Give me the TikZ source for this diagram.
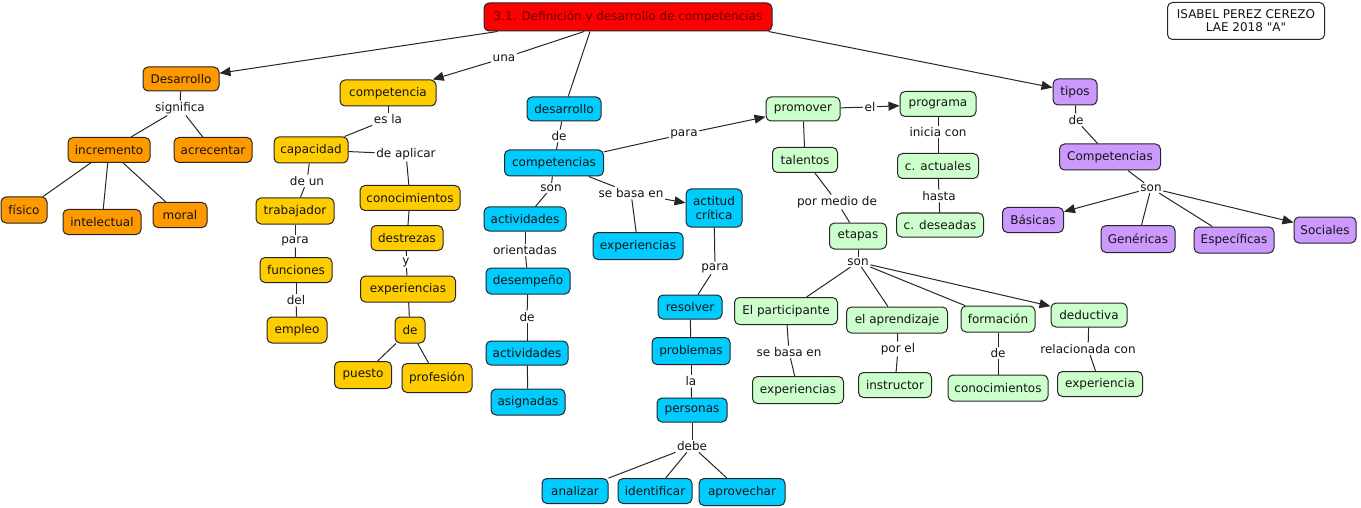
\documentclass[tikz,border=0pt]{standalone}
\usepackage{fontspec}
\setmainfont{DejaVu Sans}
\usetikzlibrary{arrows.meta}
\definecolor{orng}{RGB}{255,153,0}
\definecolor{ylw}{RGB}{255,204,0}
\definecolor{blu}{RGB}{0,204,255}
\definecolor{grn}{RGB}{204,255,204}
\definecolor{prp}{RGB}{204,153,255}
\definecolor{ttl}{RGB}{255,0,0}
\definecolor{ttltxt}{RGB}{100,0,0}
\begin{document}
\begin{tikzpicture}[x=1pt,y=-1pt,
  bx/.style={draw=black!85, rounded corners=5pt, line width=1pt, inner sep=2pt,
    font=\fontsize{12}{14}\selectfont, text=black!92, align=center},
  wh/.style 2 args={minimum width=#1pt, minimum height=#2pt},
  ob/.style={bx, fill=orng}, yb/.style={bx, fill=ylw}, bb/.style={bx, fill=blu},
  gb/.style={bx, fill=grn}, pb/.style={bx, fill=prp},
  lbl/.style={font=\fontsize{12}{14}\selectfont, text=black!92, inner sep=1.5pt, fill=white},
  ln/.style={draw=black!85, line width=1pt},
  arr/.style={ln, -{Triangle[length=11pt,width=9pt]}}]
\useasboundingbox (0,0) rectangle (1361,508);
% title and author
\node[bx, fill=ttl, text=ttltxt, wh={288}{28}] (title) at (628,17) {3.1. Definición y desarrollo de competencias};
\node[bx, fill=white, wh={157}{37}, inner sep=1pt, font=\fontsize{12}{13}\selectfont] (auth) at (1246,21) {ISABEL PEREZ CEREZO\\LAE 2018 \textquotedbl A\textquotedbl};
% orange
\node[ob, wh={76}{24}] (desa) at (181,79) {Desarrollo};
\node[ob, wh={82}{25}] (incr) at (109,150) {incremento};
\node[ob, wh={78}{25}] (acre) at (213,150) {acrecentar};
\node[ob, wh={46}{26}] (fisi) at (24,210) {físico};
\node[ob, wh={78}{25}] (inte) at (102,222) {intelectual};
\node[ob, wh={54}{25}] (mora) at (180,215) {moral};
% yellow
\node[yb, wh={96}{26}] (comp) at (388,93) {competencia};
\node[yb, wh={74}{26}] (capa) at (311,150) {capacidad};
\node[yb, wh={78}{26}] (trab) at (295,211) {trabajador};
\node[yb, wh={100}{25}] (cono) at (410,198) {conocimientos};
\node[yb, wh={72}{25}] (dest) at (407,238) {destrezas};
\node[yb, wh={72}{25}] (func) at (296,270) {funciones};
\node[yb, wh={95}{26}] (expy) at (408,289) {experiencias};
\node[yb, wh={60}{26}] (empl) at (297,330) {empleo};
\node[yb, wh={30}{26}] (dey) at (410,330) {de};
\node[yb, wh={57}{27}] (pues) at (363,375) {puesto};
\node[yb, wh={70}{29}] (prof) at (437,378) {profesión};
% blue
\node[bb, wh={74}{24}] (desb) at (564,109) {desarrollo};
\node[bb, wh={99}{26}] (cmpb) at (554,163) {competencias};
\node[bb, wh={82}{24}] (act1) at (525,219) {actividades};
\node[bb, wh={56}{38}, inner sep=1pt, font=\fontsize{12}{13.5}\selectfont] (acti) at (714,208) {actitud\\crítica};
\node[bb, wh={90}{27}] (expb) at (638,246) {experiencias};
\node[bb, wh={84}{26}] (dese) at (528,281) {desempeño};
\node[bb, wh={64}{24}] (reso) at (690,307) {resolver};
\node[bb, wh={78}{27}] (prob) at (691,351) {problemas};
\node[bb, wh={82}{24}] (act2) at (527,353) {actividades};
\node[bb, wh={74}{26}] (asig) at (528,402) {asignadas};
\node[bb, wh={70}{24}] (pers) at (692,410) {personas};
\node[bb, wh={66}{25}] (anal) at (575,491) {analizar};
\node[bb, wh={74}{25}] (iden) at (655,491) {identificar};
\node[bb, wh={86}{27}] (apro) at (742,492) {aprovechar};
% green
\node[gb, wh={74}{24}] (prom) at (803,109) {promover};
\node[gb, wh={76}{25}] (prog) at (938,104) {programa};
\node[gb, wh={65}{25}] (tale) at (805,160) {talentos};
\node[gb, wh={81}{25}] (cact) at (938,166) {c. actuales};
\node[gb, wh={87}{24}] (cdes) at (940,225) {c. deseadas};
\node[gb, wh={57}{26}] (etap) at (858,236) {etapas};
\node[gb, wh={103}{27}] (part) at (786,311) {El participante};
\node[gb, wh={101}{26}] (apre) at (897,320) {el aprendizaje};
\node[gb, wh={74}{26}] (form) at (998,319) {formación};
\node[gb, wh={76}{24}] (dedu) at (1089,315) {deductiva};
\node[gb, wh={91}{27}] (expg) at (798,390) {experiencias};
\node[gb, wh={73}{25}] (inst) at (895,385) {instructor};
\node[gb, wh={100}{26}] (cong) at (998,388) {conocimientos};
\node[gb, wh={85}{25}] (expe) at (1100,384) {experiencia};
% purple
\node[pb, wh={44}{26}] (tipo) at (1075,92) {tipos};
\node[pb, wh={101}{26}] (cmpp) at (1110,157) {Competencias};
\node[pb, wh={61}{25}] (basi) at (1033,220) {Básicas};
\node[pb, wh={74}{27}] (gene) at (1138,239) {Genéricas};
\node[pb, wh={80}{26}] (espe) at (1234,240) {Específicas};
\node[pb, wh={62}{26}] (soci) at (1325,230) {Sociales};
% labels
\node[lbl] (l1) at (180,108) {significa};
\node[lbl] (l2) at (504,58) {una};
\node[lbl] (l3) at (388,119) {es la};
\node[lbl] (l4) at (406,154) {de aplicar};
\node[lbl] (l5) at (307,181) {de un};
\node[lbl] (l6) at (295,241) {para};
\node[lbl] (l7) at (406,262) {y};
\node[lbl] (l8) at (296,300) {del};
\node[lbl] (l9) at (559,136) {de};
\node[lbl] (l10) at (551,188) {son};
\node[lbl] (l11) at (631,193) {se basa en};
\node[lbl] (l12) at (525,250) {orientadas};
\node[lbl] (l13) at (715,268) {para};
\node[lbl] (l14) at (527,317) {de};
\node[lbl] (l15) at (691,381) {la};
\node[lbl] (l16) at (692,446) {debe};
\node[lbl] (l17) at (684,134) {para};
\node[lbl] (l18) at (870,107) {el};
\node[lbl] (l19) at (938,132) {inicia con};
\node[lbl] (l20) at (939,196) {hasta};
\node[lbl] (l21) at (837,202) {por medio de};
\node[lbl] (l22) at (858,262) {son};
\node[lbl] (l23) at (789,352) {se basa en};
\node[lbl] (l24) at (898,349) {por el};
\node[lbl] (l25) at (998,353) {de};
\node[lbl] (l26) at (1088,349) {relacionada con};
\node[lbl] (l27) at (1076,120) {de};
\node[lbl] (l28) at (1151,188) {son};
% title connectors
\draw[arr] ([xshift=14pt]title.south west) -- (desa);
\draw[ln] (title) -- (l2); \draw[arr] (l2) -- (comp);
\draw[ln] ([xshift=-38pt]title.south) -- (desb);
\draw[arr] ([xshift=-4pt]title.south east) -- (tipo);
% orange
\draw[ln] (desa) -- (l1); \draw[ln] (l1) -- (incr); \draw[ln] (l1) -- (acre);
\draw[ln] (incr) -- (fisi); \draw[ln] (incr) -- (inte); \draw[ln] (incr) -- (mora);
% yellow
\draw[ln] (comp) -- (l3); \draw[ln] (l3) -- (capa);
\draw[ln] (capa) -- (l4); \draw[ln] (l4) -- (cono);
\draw[ln] (capa) -- (l5); \draw[ln] (l5) -- (trab);
\draw[ln] (trab) -- (l6); \draw[ln] (l6) -- (func);
\draw[ln] (func) -- (l8); \draw[ln] (l8) -- (empl);
\draw[ln] (cono) -- (dest);
\draw[ln] (dest) -- (l7); \draw[ln] (l7) -- (expy);
\draw[ln] (expy) -- (dey);
\draw[ln] (dey) -- (pues); \draw[ln] (dey) -- (prof);
% blue
\draw[ln] (desb) -- (l9); \draw[ln] (l9) -- (cmpb);
\draw[ln] (cmpb) -- (l17); \draw[arr] (l17) -- (prom);
\draw[ln] (cmpb) -- (l10); \draw[ln] (l10) -- (act1);
\draw[ln] (act1) -- (l12); \draw[ln] (l12) -- (dese);
\draw[ln] (dese) -- (l14); \draw[ln] (l14) -- (act2);
\draw[ln] (act2) -- (asig);
\draw[ln] (cmpb) -- (l11); \draw[arr] (l11) -- (acti); \draw[ln] (l11) -- (expb);
\draw[ln] (acti) -- (l13); \draw[ln] (l13) -- (reso);
\draw[ln] (reso) -- (prob);
\draw[ln] (prob) -- (l15); \draw[ln] (l15) -- (pers);
\draw[ln] (pers) -- (l16);
\draw[ln] (l16) -- (anal); \draw[ln] (l16) -- (iden); \draw[ln] (l16) -- (apro);
% green
\draw[ln] (prom) -- (l18); \draw[arr] (l18) -- (prog);
\draw[ln] (prom) -- (tale);
\draw[ln] (tale) -- (l21); \draw[ln] (l21) -- (etap);
\draw[ln] (etap) -- (l22);
\draw[ln] (l22) -- (part); \draw[ln] (l22) -- (apre); \draw[ln] (l22) -- (form);
\draw[arr] (l22) -- (dedu);
\draw[ln] (prog) -- (l19); \draw[ln] (l19) -- (cact);
\draw[ln] (cact) -- (l20); \draw[ln] (l20) -- (cdes);
\draw[ln] (part) -- (l23); \draw[ln] (l23) -- (expg);
\draw[ln] (apre) -- (l24); \draw[ln] (l24) -- (inst);
\draw[ln] (form) -- (l25); \draw[ln] (l25) -- (cong);
\draw[ln] (dedu) -- (l26); \draw[ln] (l26) -- (expe);
% purple
\draw[ln] (tipo) -- (l27); \draw[ln] (l27) -- (cmpp);
\draw[ln] (cmpp) -- (l28);
\draw[arr] (l28) -- (basi); \draw[ln] (l28) -- (gene); \draw[ln] (l28) -- (espe);
\draw[arr] (l28) -- (soci);
\end{tikzpicture}
\end{document}
